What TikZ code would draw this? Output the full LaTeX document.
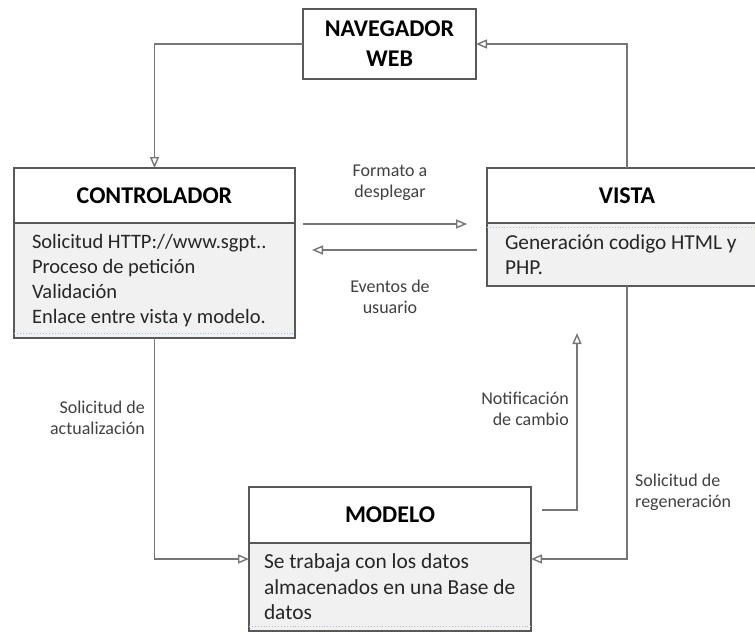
\documentclass[tikz,border=0pt]{standalone}
\usepackage{fontspec}
\setmainfont{Carlito}
\usetikzlibrary{arrows.meta,positioning}

\definecolor{boxline}{HTML}{595959}
\definecolor{connline}{HTML}{767676}
\definecolor{bodyfill}{HTML}{F1F1F1}
\definecolor{dotblue}{HTML}{9DC3E6}
\definecolor{lbltext}{HTML}{404040}

\begin{document}
\begin{tikzpicture}[x=1pt,y=-1pt,
  hdr/.style={draw=boxline,line width=1.3pt,fill=white,outer sep=0pt,inner sep=0pt,
    font=\fontsize{24}{30}\selectfont\bfseries,text=black},
  bodybox/.style={draw=boxline,line width=1.3pt,fill=bodyfill,outer sep=0pt,inner ysep=0pt,
    align=flush left,text=black!85},
  lbl/.style={font=\fontsize{18}{21}\selectfont,text=lbltext,inner sep=0pt},
  conn/.style={draw=connline,line width=1.4pt,-{Triangle[open,length=11pt,width=9pt]}},
  dotline/.style={draw=dotblue,line width=0.9pt,dotted}]
\useasboundingbox (0,0) rectangle (755,632);
\node[hdr,align=center,minimum width=173pt,minimum height=70pt] (nav) at (389.5,44) {NAVEGADOR\\WEB};
\node[hdr,minimum width=281pt,minimum height=55pt] (ctrlh) at (154.5,195.5) {CONTROLADOR};
\node[bodybox,below=0pt of ctrlh,minimum height=115pt,text width=245pt,inner xsep=18pt,font=\fontsize{20.5}{25}\selectfont] (ctrlb) {Solicitud HTTP://www.sgpt..\\Proceso de petición\\Validación\\Enlace entre vista y modelo.};
\node[hdr,minimum width=280pt,minimum height=55pt] (vistah) at (627,195.5) {VISTA};
\node[bodybox,below=0pt of vistah,minimum height=63pt,text width=244pt,inner xsep=18pt,font=\fontsize{21.3}{25}\selectfont] (vistab) {Generación codigo HTML y\\PHP.};
\node[hdr,minimum width=282pt,minimum height=56pt] (modh) at (390,515) {MODELO};
\node[bodybox,below=0pt of modh,minimum height=88pt,text width=252pt,inner xsep=15pt,font=\fontsize{21.4}{25.5}\selectfont] (modb) {Se trabaja con los datos\\almacenados en una Base de\\datos};
\draw[dotline] ([yshift=5pt]ctrlb.south west) -- ([yshift=5pt]ctrlb.south east);
\draw[dotline] ([yshift=-4pt]vistab.north west) -- ([yshift=-4pt]vistab.north east);
\draw[dotline] ([yshift=5pt]modb.south west) -- ([yshift=5pt]modb.south east);
\coordinate (fmtA) at (303,224);
\coordinate (fmtB) at (467,224);
\coordinate (evtA) at (477,250);
\coordinate (evtB) at (312,250);
\coordinate (modl) at (249,559);
\coordinate (modr) at (531,559);
\coordinate (notA) at (542,510);
\coordinate (notB) at (577,333);
\draw[conn] (nav.west) -| (ctrlh.north);
\draw[conn] (vistah.north) |- (nav.east);
\draw[conn] (fmtA) -- (fmtB);
\draw[conn] (evtA) -- (evtB);
\draw[conn] (ctrlb.south) |- (modl);
\draw[conn] (notA) -| (notB);
\draw[conn] (vistab.south) |- (modr);
\node[lbl,align=center] (lblfmt) at (390,183) {Formato a\\desplegar};
\node[lbl,align=center] (lblevt) at (390,297) {Eventos de\\usuario};
\node[lbl,align=right,anchor=east] (lblact) at (145,418) {Solicitud de\\actualización};
\node[lbl,align=right,anchor=east] (lblnot) at (569,409) {Notificación\\de cambio};
\node[lbl,align=left,anchor=west] (lblreg) at (635,492) {Solicitud de\\regeneración};
\end{tikzpicture}
\end{document}
